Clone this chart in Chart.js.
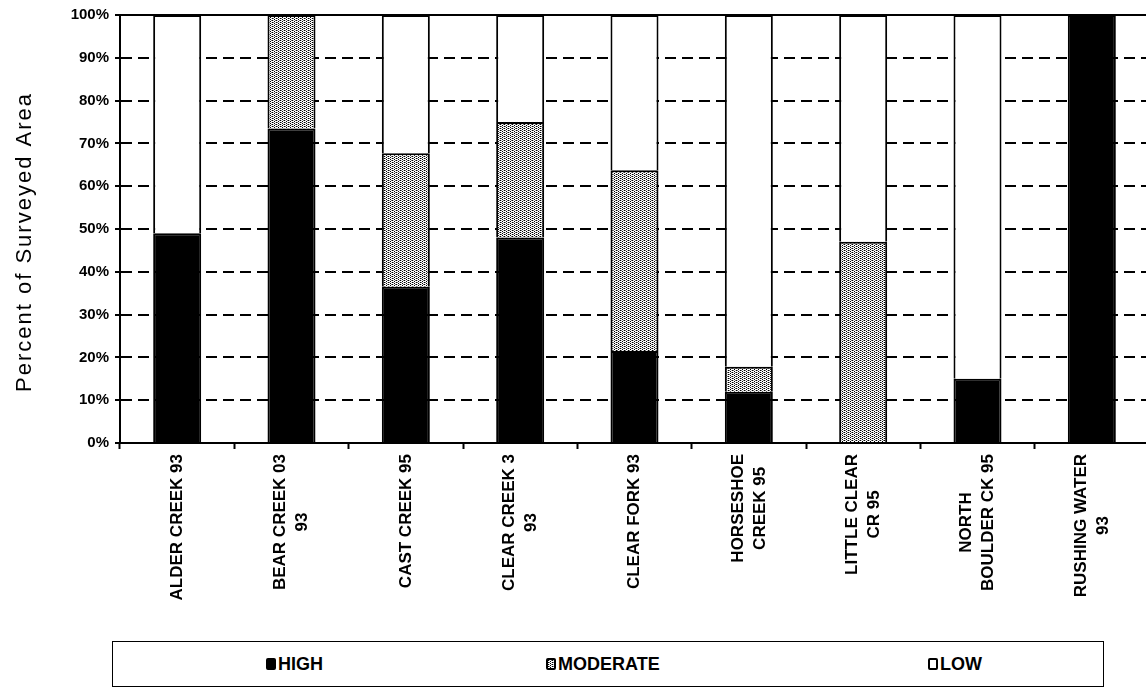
<!DOCTYPE html>
<html>
<head>
<meta charset="utf-8">
<script src="https://cdn.jsdelivr.net/npm/chart.js@4.4.0/dist/chart.umd.min.js"></script>
<style>
  html, body { margin: 0; padding: 0; background: #fff; width: 1146px; height: 688px; overflow: hidden; }
  #wrap { position: absolute; left: 0; top: 0; width: 1160px; height: 640px; }
  #legend {
    position: absolute; left: 112px; top: 641px; width: 992px; height: 46px;
    border: 1px solid #000; box-sizing: border-box;
    font: bold 18px "Liberation Sans", Arial, sans-serif; color: #000;
  }
  .item { position: absolute; top: 12px; display: flex; align-items: center; line-height: 20px; }
  .sw { width: 10px; height: 12px; margin-right: 2px; box-sizing: border-box; border: 2px solid #000; border-radius: 2px; }
</style>
</head>
<body>
<div id="wrap"><canvas id="c" width="1160" height="640"></canvas></div>
<div id="legend">
  <div class="item" style="left:153px"><span class="sw" id="swHigh"></span>HIGH</div>
  <div class="item" style="left:433px"><span class="sw" id="swMod"></span>MODERATE</div>
  <div class="item" style="left:815px"><span class="sw" id="swLow"></span>LOW</div>
</div>
<script>
// Survey sites (each entry holds the label lines shown under its bar)
const sites = [
  ["ALDER CREEK 93"],
  ["BEAR CREEK 03", "93"],
  ["CAST CREEK 95"],
  ["CLEAR CREEK 3", "93"],
  ["CLEAR FORK 93"],
  ["HORSESHOE", "CREEK 95"],
  ["LITTLE CLEAR", "CR 95"],
  ["NORTH", "BOULDER CK 95"],
  ["RUSHING WATER", "93"]
];

// Percent of surveyed area in each rating class
const high     = [49, 73.5, 36.5, 48, 21.5, 12, 0, 15, 100];
const moderate = [0, 26.5, 31.2, 27, 42.2, 5.8, 47, 0, 0];
const low      = [51, 0, 32.3, 25, 36.3, 82.2, 53, 85, 0];

const yTicks = [0, 10, 20, 30, 40, 50, 60, 70, 80, 90, 100];
const yTitle = 'Percent of Surveyed Area';

// Stippled fill used for the MODERATE class
function stippleTile() {
  const t = document.createElement('canvas');
  t.width = 4; t.height = 4;
  const g = t.getContext('2d');
  g.fillStyle = '#fff'; g.fillRect(0, 0, 4, 4);
  g.fillStyle = '#000';
  [[0,0],[2,1],[0,2],[2,3]].forEach(([x,y]) => g.fillRect(x, y, 1, 1));
  g.fillStyle = '#7a7a7a';
  [[3,0],[1,2]].forEach(([x,y]) => g.fillRect(x, y, 1, 1));
  g.fillStyle = '#c4c4c4';
  [[1,0],[3,2]].forEach(([x,y]) => g.fillRect(x, y, 1, 1));
  return t;
}
const tile = stippleTile();
const ctx = document.getElementById('c').getContext('2d');
const stipple = ctx.createPattern(tile, 'repeat');

document.getElementById('swHigh').style.background = '#000';
document.getElementById('swLow').style.background = '#fff';
const swMod = document.getElementById('swMod');
swMod.style.backgroundImage = 'url(' + tile.toDataURL() + ')';
swMod.style.imageRendering = 'pixelated';

const FONT = '"Liberation Sans", Arial, sans-serif';

// Top edge of the plot frame
const framePlugin = {
  id: 'frameTop',
  afterDatasetsDraw(chart) {
    const { ctx, chartArea: a } = chart;
    ctx.save();
    ctx.strokeStyle = '#000';
    ctx.lineWidth = 2;
    ctx.beginPath();
    ctx.moveTo(a.left, a.top);
    ctx.lineTo(a.right, a.top);
    ctx.stroke();
    ctx.restore();
  }
};

// Vertical site names (lines centred on each other) and the value-axis title
const textPlugin = {
  id: 'axisTexts',
  afterDraw(chart) {
    const { ctx, chartArea: a } = chart;
    const x = chart.scales.x;
    ctx.save();
    ctx.font = 'bold 17px ' + FONT;
    ctx.fillStyle = '#000';
    ctx.textAlign = 'center';
    ctx.textBaseline = 'middle';
    const lineGap = 22;
    sites.forEach((lines, i) => {
      const cx = x.getPixelForValue(i);
      const w = Math.max(...lines.map(l => ctx.measureText(l).width));
      const cy = x.top + 11 + w / 2;
      lines.forEach((l, j) => {
        const lx = cx + (j - (lines.length - 1) / 2) * lineGap;
        ctx.save();
        ctx.translate(lx, cy);
        ctx.rotate(-Math.PI / 2);
        ctx.fillText(l, 0, 0);
        ctx.restore();
      });
    });

    ctx.font = '22px ' + FONT;
    if ('letterSpacing' in ctx) ctx.letterSpacing = '2px';
    ctx.translate(25, (a.top + a.bottom) / 2 + 13);
    ctx.rotate(-Math.PI / 2);
    ctx.fillText(yTitle, 0, 0);
    ctx.restore();
  }
};

const barStyle = { borderColor: '#000', borderWidth: 2, barPercentage: 0.42, categoryPercentage: 1.0 };

new Chart(ctx, {
  type: 'bar',
  data: {
    labels: sites.map(s => s.join(' ')),
    datasets: [
      Object.assign({ label: 'HIGH', data: high, backgroundColor: '#000' }, barStyle),
      Object.assign({ label: 'MODERATE', data: moderate, backgroundColor: stipple }, barStyle),
      Object.assign({ label: 'LOW', data: low, backgroundColor: '#fff' }, barStyle)
    ]
  },
  options: {
    responsive: false,
    animation: false,
    devicePixelRatio: 1,
    layout: { padding: { top: 13, right: 11, bottom: 0, left: 0 } },
    plugins: { legend: { display: false }, tooltip: { enabled: false } },
    scales: {
      x: {
        stacked: true,
        offset: true,
        grid: { offset: true, drawOnChartArea: false, drawTicks: true, tickLength: 6, tickColor: '#000', tickWidth: 2, color: '#000' },
        border: { display: true, color: '#000', width: 2 },
        ticks: { display: false },
        afterFit(scale) { scale.height = 197; }
      },
      y: {
        stacked: true,
        min: 0,
        max: 100,
        afterBuildTicks(scale) { scale.ticks = yTicks.map(v => ({ value: v })); },
        ticks: {
          callback: v => v + '%',
          color: '#000',
          padding: 6,
          font: { family: FONT, size: 15, weight: 'bold' }
        },
        grid: { color: '#000', lineWidth: 2, tickLength: 5, tickColor: '#000', tickWidth: 2 },
        border: { display: true, color: '#000', width: 2, dash: [11, 6] },
        title: { display: false },
        afterFit(scale) { scale.width = 120; }
      }
    }
  },
  plugins: [framePlugin, textPlugin]
});
</script>
</body>
</html>
